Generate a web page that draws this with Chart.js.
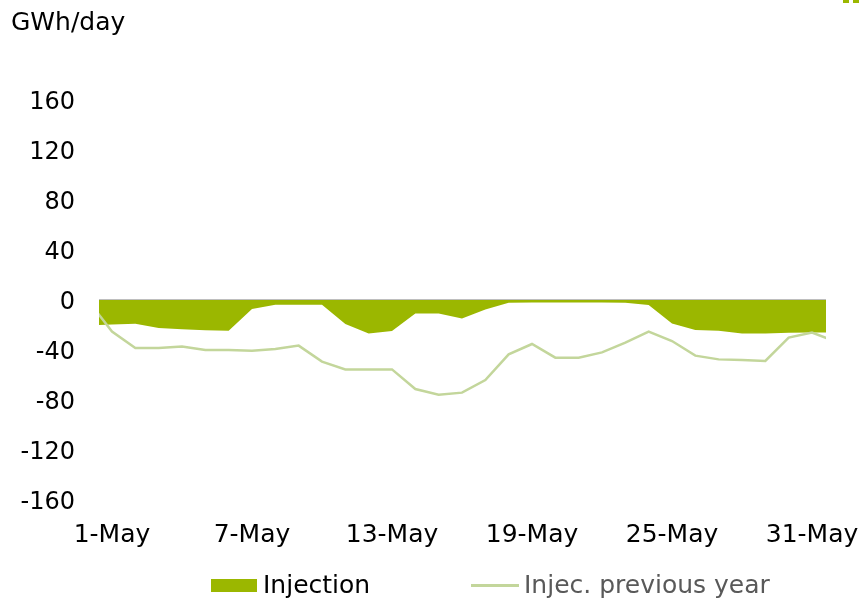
<!DOCTYPE html>
<html>
<head>
<meta charset="utf-8">
<script src="https://cdn.jsdelivr.net/npm/chart.js@4/dist/chart.umd.min.js"></script>
<style>
  html, body { margin: 0; padding: 0; background: #fff; }
  #wrap { position: relative; width: 862px; height: 599px; overflow: hidden; font-family: 'DejaVu Sans', Verdana, sans-serif; }
  #chart { position: absolute; left: 0; top: 0; }
  .unit { position: absolute; left: 11px; top: 9px; font-size: 25px; line-height: 25px; color: #000; }
  .legend { position: absolute; top: 572px; font-size: 25px; line-height: 25px; white-space: nowrap; }
  .swatch { position: absolute; }
  .corner { position: absolute; top: 0; width: 6px; height: 3px; background: #9BB700; }
</style>
</head>
<body>
<div id="wrap">
  <canvas id="chart" width="862" height="599"></canvas>
  <div class="unit">GWh/day</div>
  <div class="swatch" id="sw1" style="left:211px;top:579px;width:46px;height:13px;"></div>
  <div class="legend" id="lg1" style="left:263px;color:#000;"></div>
  <div class="swatch" id="sw2" style="left:471px;top:584px;width:48px;height:3px;"></div>
  <div class="legend" id="lg2" style="left:524px;color:#595959;"></div>
  <div class="corner" style="left:843px;"></div>
  <div class="corner" style="left:853px;"></div>
</div>
<script>
// Day of month for each value (0 = 30-Apr, 32 = 1-Jun, both cut by the plot edges)
const days = [0, 1, 2, 3, 4, 5, 6, 7, 8, 9, 10, 11, 12, 13, 14, 15, 16,
              17, 18, 19, 20, 21, 22, 23, 24, 25, 26, 27, 28, 29, 30, 31, 32];

// Daily storage injection, GWh/day (negative = net injection shown below zero)
const injection = [-20.3, -19.6, -18.9, -22.4, -23.3, -24.2, -24.5, -7.2, -3.7, -3.7, -3.7,
                   -19.2, -26.7, -24.8, -10.7, -10.7, -14.7, -7.5, -2.1, -2.0, -2.0, -2.0,
                   -2.0, -2.1, -4.0, -18.7, -24.0, -24.5, -26.7, -26.7, -26.1, -25.9, -25.9];

// Same days, previous year
const injectionPrevYear = [-1.0, -25.3, -38.4, -38.4, -37.3, -40.0, -40.0, -40.5, -39.2, -36.5, -49.3,
                           -55.5, -55.5, -55.5, -71.2, -75.7, -74.1, -64.0, -43.5, -35.2, -46.1, -46.1,
                           -41.9, -34.1, -25.3, -32.8, -44.5, -47.5, -48.0, -48.8, -30.1, -26.1, -33.2];

const seriesNames = ['Injection', 'Injec. previous year'];
const tickDays = [1, 7, 13, 19, 25, 31];
const tickLabels = ['1-May', '7-May', '13-May', '19-May', '25-May', '31-May'];
const yTicks = [-160, -120, -80, -40, 0, 40, 80, 120, 160];

const GREEN = '#9BB700';
const LIGHT_GREEN = '#C3D69B';
const FONT = "'DejaVu Sans', Verdana, sans-serif";

const toPoints = vals => days.map((d, i) => ({ x: d, y: vals[i] }));

// HTML legend
document.getElementById('sw1').style.background = GREEN;
document.getElementById('sw2').style.background = LIGHT_GREEN;
document.getElementById('lg1').textContent = seriesNames[0];
document.getElementById('lg2').textContent = seriesNames[1];

new Chart(document.getElementById('chart'), {
  type: 'line',
  data: {
    datasets: [
      {
        label: seriesNames[1],
        data: toPoints(injectionPrevYear),
        borderColor: LIGHT_GREEN,
        borderWidth: 2.5,
        pointRadius: 0,
        tension: 0,
        fill: false,
        order: 0
      },
      {
        label: seriesNames[0],
        data: toPoints(injection),
        borderWidth: 0,
        borderColor: 'rgba(0,0,0,0)',
        backgroundColor: GREEN,
        pointRadius: 0,
        tension: 0,
        fill: 'origin',
        order: 1
      }
    ]
  },
  options: {
    responsive: false,
    animation: false,
    devicePixelRatio: 1,
    layout: { padding: { left: 0, right: 36, top: 100, bottom: 0 } },
    plugins: {
      legend: { display: false },
      tooltip: { enabled: false }
    },
    scales: {
      x: {
        type: 'linear',
        min: 1 - 13 / 23.333,
        max: 31 + 14 / 23.333,
        grid: { display: false, drawTicks: false },
        border: { display: false },
        afterFit: s => { s.height = 99; s.paddingLeft = 0; s.paddingRight = 0; },
        afterBuildTicks: s => { s.ticks = tickDays.map(v => ({ value: v })); },
        ticks: {
          autoSkip: false,
          maxRotation: 0,
          padding: 20,
          color: '#000',
          font: { family: FONT, size: 25 },
          callback: v => tickLabels[tickDays.indexOf(v)]
        }
      },
      y: {
        min: -160,
        max: 160,
        z: 1,
        afterFit: s => { s.width = 99; s.paddingTop = 0; s.paddingBottom = 0; },
        afterBuildTicks: s => { s.ticks = yTicks.map(v => ({ value: v })); },
        grid: {
          drawTicks: false,
          lineWidth: 2,
          color: c => (c.tick && c.tick.value === 0 ? '#BEBEBE' : 'rgba(0,0,0,0)')
        },
        border: { display: false },
        ticks: {
          padding: 24,
          color: '#000',
          // empty first line nudges each value label a few pixels lower
          font: { family: FONT, size: 24, lineHeight: '6px' },
          callback: v => ['', String(v)]
        }
      }
    }
  }
});
</script>
</body>
</html>
